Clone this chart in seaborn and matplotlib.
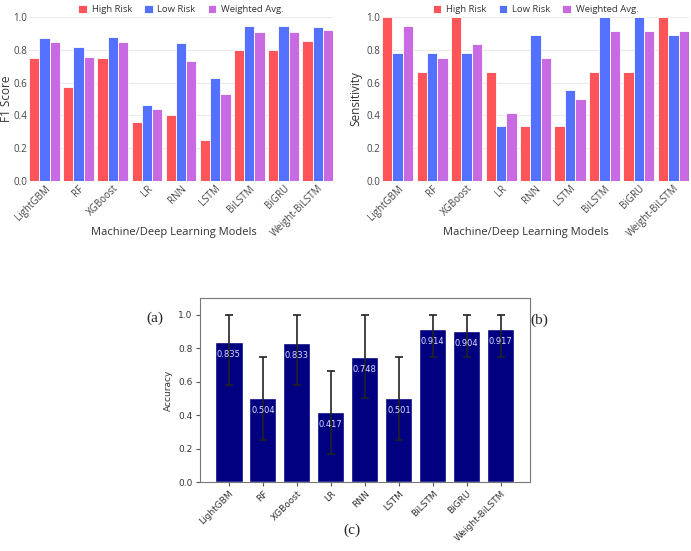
import numpy as np
import pandas as pd
import matplotlib
matplotlib.use('Agg')
import matplotlib.pyplot as plt
import seaborn as sns

# Modelos e metricas
modelos = ['LightGBM', 'RF', 'XGBoost', 'LR', 'RNN', 'LSTM', 'BiLSTM', 'BiGRU', 'Weight-BiLSTM']

f1_alto = [0.75, 0.571, 0.75, 0.357, 0.40, 0.25, 0.80, 0.80, 0.857]
f1_baixo = [0.875, 0.82, 0.881, 0.462, 0.843, 0.627, 0.948, 0.948, 0.94]
f1_medio = [0.846, 0.757, 0.849, 0.438, 0.732, 0.532, 0.91, 0.91, 0.92]

sens_alto = [1.0, 0.667, 1.0, 0.667, 0.333, 0.333, 0.667, 0.667, 1.0]
sens_baixo = [0.778, 0.78, 0.78, 0.333, 0.889, 0.556, 1.0, 1.0, 0.889]
sens_medio = [0.944, 0.75, 0.833, 0.417, 0.75, 0.5, 0.917, 0.917, 0.917]

acuracia = [0.835, 0.504, 0.833, 0.417, 0.748, 0.501, 0.914, 0.904, 0.917]
acc_min = [0.583, 0.25, 0.583, 0.167, 0.5, 0.25, 0.75, 0.75, 0.75]
acc_max = [1.0, 0.75, 1.0, 0.667, 1.0, 0.75, 1.0, 1.0, 1.0]

classes = ['High Risk', 'Low Risk', 'Weighted Avg.']
cores = {'High Risk': '#FF5558', 'Low Risk': '#5470FF', 'Weighted Avg.': '#C86AE2'}


def tabela(alto, baixo, medio):
    linhas = []
    for i, m in enumerate(modelos):
        for c, v in zip(classes, [alto[i], baixo[i], medio[i]]):
            linhas.append({'Modelo': m, 'Classe': c, 'Valor': v})
    return pd.DataFrame(linhas)


sns.set_style('whitegrid')
plt.rcParams['font.family'] = ['Open Sans', 'DejaVu Sans']

fig = plt.figure(figsize=(6.91, 5.51), dpi=100)

posicoes = [[0.042, 0.6715, 0.440, 0.2975], [0.553, 0.6715, 0.444, 0.2975]]
dados = [tabela(f1_alto, f1_baixo, f1_medio), tabela(sens_alto, sens_baixo, sens_medio)]
rotulos = ['F1 Score', 'Sensitivity']
pos_ylabel = [-0.054, -0.065]
pos_xlabel = [0.475, 0.47]

for pos, df, rot, py, px in zip(posicoes, dados, rotulos, pos_ylabel, pos_xlabel):
    ax = fig.add_axes(pos)
    sns.barplot(data=df, x='Modelo', y='Valor', hue='Classe', palette=cores,
                saturation=1, width=0.9, edgecolor='white', linewidth=0.6, ax=ax)
    ax.set_xlim(-0.45, 8.45)
    ax.set_ylim(0, 1.0)
    ax.set_yticks(np.arange(0, 1.01, 0.2))
    ax.set_yticklabels([f'{v:.1f}' for v in np.arange(0, 1.01, 0.2)], fontsize=7, color='#444444')
    ax.set_xticks(range(len(modelos)))
    ax.set_xticklabels(modelos, rotation=45, ha='right', rotation_mode='anchor',
                       fontsize=7, color='#444444')
    ax.tick_params(axis='both', length=0, pad=1.5)
    ax.grid(axis='x', visible=False)
    ax.grid(axis='y', color='#EBEBEB', linewidth=0.8)
    for s in ax.spines.values():
        s.set_visible(False)
    ax.set_ylabel(rot, fontsize=8.5, color='#333333')
    ax.yaxis.set_label_coords(py, 0.5)
    ax.set_xlabel('Machine/Deep Learning Models', fontsize=8, color='#333333')
    ax.xaxis.set_label_coords(px, -0.28)
    ax.legend(loc='lower center', bbox_to_anchor=(0.5, 0.995), ncol=3, frameon=False,
              fontsize=6.8, handlelength=0.9, handleheight=0.9, columnspacing=1.3,
              borderaxespad=0, handletextpad=0.5, labelcolor='#333333')

# Painel (c) - acuracia com barras de erro
plt.rcParams['font.family'] = ['DejaVu Sans']
ax = fig.add_axes([0.289, 0.125, 0.478, 0.334])
sns.barplot(x=modelos, y=acuracia, color='#000080', saturation=1, width=0.8, ax=ax)
erro = [np.array(acuracia) - np.array(acc_min), np.array(acc_max) - np.array(acuracia)]
ax.errorbar(range(len(modelos)), acuracia, yerr=erro, fmt='none', ecolor='#222222',
            elinewidth=1.2, capsize=3, capthick=1.2)
for i, v in enumerate(acuracia):
    ax.text(i, v - 0.075, f'{v:.3f}', ha='center', va='center', fontsize=6, color='#DDDDFF')
ax.set_xlim(-0.86, 8.86)
ax.set_ylim(0, 1.1)
ax.set_facecolor('white')
ax.grid(False)
for s in ax.spines.values():
    s.set_visible(True)
    s.set_color('#777777')
    s.set_linewidth(0.8)
ax.set_yticks(np.arange(0, 1.01, 0.2))
ax.set_yticklabels([f'{v:.1f}' for v in np.arange(0, 1.01, 0.2)], fontsize=6.5, color='#333333')
ax.set_xticks(range(len(modelos)))
ax.set_xticklabels(modelos, rotation=45, ha='right', rotation_mode='anchor',
                   fontsize=6.5, color='#333333')
ax.tick_params(axis='both', length=3, width=0.8, color='#555555', pad=2,
               bottom=True, left=True)
ax.set_ylabel('Accuracy', fontsize=6.5, color='#333333')

# Legendas (a), (b), (c)
fig.text(0.224, 0.423, '(a)', ha='center', va='center', fontsize=11, family='Liberation Serif')
fig.text(0.781, 0.419, '(b)', ha='center', va='center', fontsize=11, family='Liberation Serif')
fig.text(0.509, 0.038, '(c)', ha='center', va='center', fontsize=11, family='Liberation Serif')

fig.savefig('out.png', dpi=100)
